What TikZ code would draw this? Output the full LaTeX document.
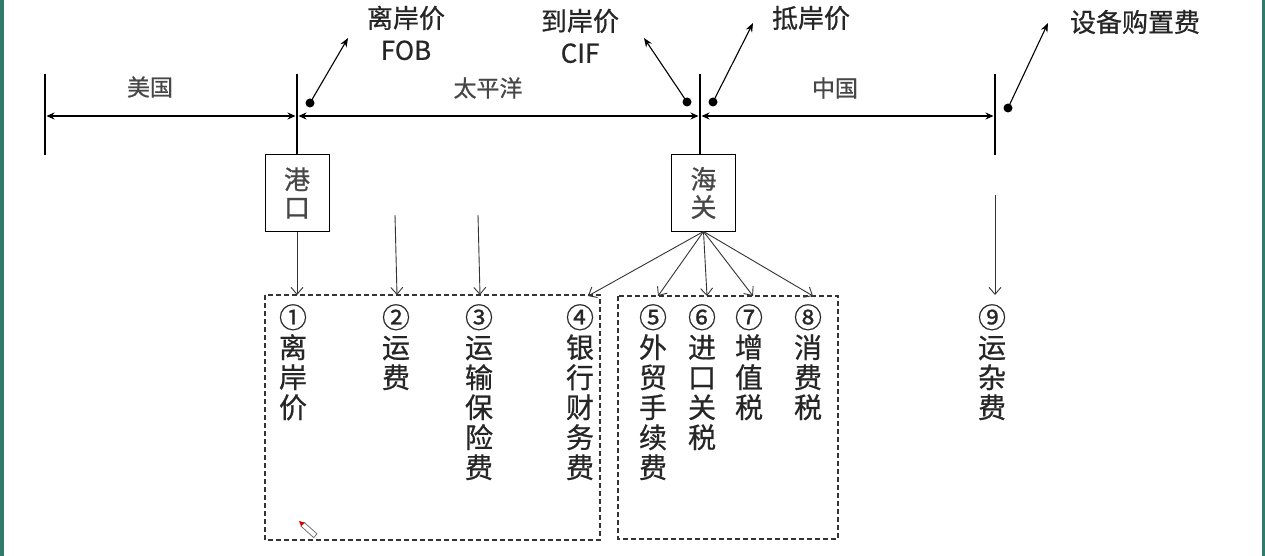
\documentclass[tikz,border=0pt]{standalone}
\usepackage{fontspec}
\setmainfont{Noto Sans CJK SC}[FakeBold=0.7]
\usetikzlibrary{arrows.meta}
\definecolor{txt}{HTML}{262626}
\definecolor{frame}{HTML}{2F7A6A}
\tikzset{
  tick/.style={line width=2.6pt, line cap=butt},
  seg/.style={line width=1.3pt, {Stealth[length=8pt,width=7pt]}-{Stealth[length=8pt,width=7pt]}},
  pointer/.style={line width=1.1pt, -{Stealth[length=9pt,width=7pt]}},
  dotmark/.style={circle, fill=black, inner sep=0pt, minimum size=9pt},
  feed/.style={line width=0.9pt, draw=black!80, -{Straight Barb[length=7pt,width=12pt,line width=0.9pt]}},
  stack/.style={font=\fontsize{28}{30}\selectfont, text=txt, align=center, inner sep=0pt, anchor=north},
  toplabel/.style={font=\fontsize{26}{32}\selectfont, text=txt, align=center, inner sep=0pt},
  region/.style={font=\fontsize{23}{28}\selectfont, text=txt!85, inner sep=0pt},
  gate/.style={draw, line width=1pt, minimum width=64pt, minimum height=76pt, inner sep=0pt, align=center, font=\fontsize{26}{28}\selectfont, text=txt!85},
  group/.style={draw=black!80, line width=1.2pt, dash pattern=on 5pt off 3pt}
}
\begin{document}
\begin{tikzpicture}[x=1pt,y=-1pt]
\useasboundingbox (0,0) rectangle (1265,556);
\fill[white] (0,0) rectangle (1265,556);
\fill[frame] (0,0) rectangle (3.5,556);
\fill[frame] (1261.5,0) rectangle (1265,556);

% ticks
\coordinate (t0top) at (45,74);  \coordinate (t0bot) at (45,155);
\coordinate (t1top) at (297,74); \coordinate (t1bot) at (297,155);
\coordinate (t2top) at (700,74); \coordinate (t2bot) at (700,155);
\coordinate (t3top) at (995,74); \coordinate (t3bot) at (995,155);
\draw[tick] (t0top) -- (t0bot);
\draw[tick] (t1top) -- (t1bot);
\draw[tick] (t2top) -- (t2bot);
\draw[tick] (t3top) -- (t3bot);

% segments
\coordinate (s1a) at (46.5,116); \coordinate (s1b) at (295.5,116);
\coordinate (s2a) at (298.5,116); \coordinate (s2b) at (698.5,116);
\coordinate (s3a) at (701.5,116); \coordinate (s3b) at (993.5,116);
\draw[seg] (s1a) -- (s1b);
\draw[seg] (s2a) -- (s2b);
\draw[seg] (s3a) -- (s3b);

% region labels
\node[region] (us) at (150,87) {美国};
\node[region] (pac) at (488,88) {太平洋};
\node[region] (cn) at (835,88) {中国};

% price labels
\node[toplabel] (fob) at (406,33) {离岸价\\FOB};
\node[toplabel] (cif) at (580,36) {到岸价\\CIF};
\node[toplabel] (ddp) at (811,18) {抵岸价};
\node[toplabel] (equip) at (1135,22) {设备购置费};

% dots and pointers
\node[dotmark] (d1) at (310,103) {};
\node[dotmark] (d2) at (687,102) {};
\node[dotmark] (d3) at (713,102) {};
\node[dotmark] (d4) at (1008,108) {};
\coordinate (p1) at (348,38);
\coordinate (p2) at (644,38);
\coordinate (p3) at (753,23);
\coordinate (p4) at (1048,23);
\draw[pointer] (d1.center) -- (p1);
\draw[pointer] (d2.center) -- (p2);
\draw[pointer] (d3.center) -- (p3);
\draw[pointer] (d4.center) -- (p4);

% gates
\node[gate] (port) at (297,193) {港\\口};
\node[gate] (customs) at (703.5,193) {海\\关};

% dashed groups
\draw[group] (265,295) rectangle (600,540);
\draw[group] (618,296) rectangle (838,539);

% item stacks
\node[stack] (i1) at (293,304) {①\\离\\岸\\价};
\node[stack] (i2) at (396,304) {②\\运\\费};
\node[stack] (i3) at (479,304) {③\\运\\输\\保\\险\\费};
\node[stack] (i4) at (580,304) {④\\银\\行\\财\\务\\费};
\node[stack] (i5) at (653,304) {⑤\\外\\贸\\手\\续\\费};
\node[stack] (i6) at (702,304) {⑥\\进\\口\\关\\税};
\node[stack] (i7) at (749,304) {⑦\\增\\值\\税};
\node[stack] (i8) at (808,304) {⑧\\消\\费\\税};
\node[stack] (i9) at (992,304) {⑨\\运\\杂\\费};

% feeds
\coordinate (f2s) at (395,215); \coordinate (f2e) at (397,295);
\coordinate (f3s) at (478,215); \coordinate (f3e) at (480,295);
\coordinate (f9s) at (995,195); \coordinate (f9e) at (995,295);
\draw[feed] (port.south) -- (297,295);
\draw[feed] (f2s) -- (f2e);
\draw[feed] (f3s) -- (f3e);
\draw[feed] (f9s) -- (f9e);
\coordinate (c4) at (588,296);
\coordinate (c5) at (658,296);
\coordinate (c6) at (707,296);
\coordinate (c7) at (753,296);
\coordinate (c8) at (813,296);
\foreach \t in {c4,c5,c6,c7,c8} \draw[feed] (customs.south) -- (\t);

% small pencil cursor
\begin{scope}[shift={(299,521)}, rotate=-42]
  \draw[black!55, line width=0.8pt, fill=white] (5,-2.5) rectangle (22,2.5);
  \fill[red!85!black] (0,0) -- (5,-2.5) -- (5,2.5) -- cycle;
\end{scope}
\end{tikzpicture}
\end{document}
